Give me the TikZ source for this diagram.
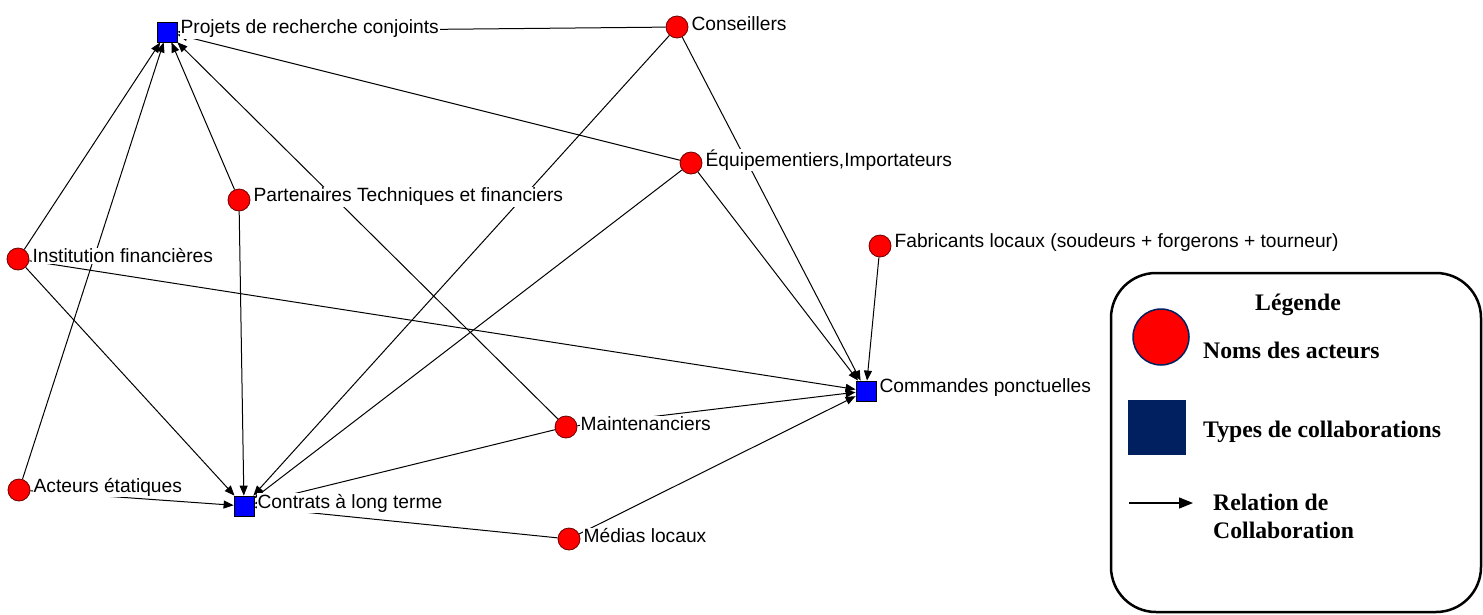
\documentclass[tikz,border=0pt]{standalone}
\usepackage{fontspec}
\setmainfont{Liberation Serif}
\setsansfont{Liberation Sans}
\usetikzlibrary{arrows.meta, positioning}
\definecolor{actorred}{HTML}{FF0000}
\definecolor{actorrim}{HTML}{6A0000}
\definecolor{typeblue}{HTML}{0000FF}
\definecolor{legnavy}{HTML}{002060}

\begin{document}
\begin{tikzpicture}[x=1pt, y=-1pt,
    actor/.style={circle, draw=actorrim, fill=actorred, line width=0.8pt, minimum size=22pt, inner sep=0pt},
    colltype/.style={rectangle, draw=black, fill=typeblue, line width=0.8pt, minimum size=20pt, inner sep=0pt},
    lbl/.style={fill=white, inner sep=1pt, font=\sffamily\fontsize{19.2}{22}\selectfont, yshift=3pt},
    link/.style={-{Triangle[length=10pt, width=8pt]}, line width=1pt},
    legtext/.style={font=\bfseries\fontsize{23.7}{28}\selectfont, align=left, inner sep=0pt}]

    \useasboundingbox (0,0) rectangle (1483,614);

    % actors and collaboration types
    \node (proj) [colltype] at (167,32) {};
    \node (contr) [colltype] at (244,506) {};
    \node (cmd) [colltype] at (866,391) {};
    \node (cons) [actor] at (677,27) {};
    \node (equip) [actor] at (691,163) {};
    \node (part) [actor] at (239,200) {};
    \node (inst) [actor] at (18,259) {};
    \node (fabr) [actor] at (880,246) {};
    \node (maint) [actor] at (566,427) {};
    \node (etat) [actor] at (19,490) {};
    \node (medias) [actor] at (569,539) {};

    % relations
    \draw [link] (cons) -- (proj);
    \draw [link] (equip) -- (proj);
    \draw [link] (part) -- (proj);
    \draw [link] (maint) -- (proj);
    \draw [link] (inst) -- (proj);
    \draw [link] (etat) -- (proj);
    \draw [link] (inst) -- (contr);
    \draw [link] (part) -- (contr);
    \draw [link] (cons) -- (contr);
    \draw [link] (equip) -- (contr);
    \draw [link] (etat) -- (contr);
    \draw [link] (maint) -- (contr);
    \draw [link] (medias) -- (contr);
    \draw [link] (inst) -- (cmd);
    \draw [link] (cons) -- (cmd);
    \draw [link] (equip) -- (cmd);
    \draw [link] (fabr) -- (cmd);
    \draw [link] (maint) -- (cmd);
    \draw [link] (medias) -- (cmd);

    % labels
    \node (projl) [lbl, right=2pt of proj] {Projets de recherche conjoints};
    \node (contrl) [lbl, right=2pt of contr] {Contrats à long terme};
    \node (cmdl) [lbl, right=2pt of cmd] {Commandes ponctuelles};
    \node (consl) [lbl, right=2pt of cons] {Conseillers};
    \node (equipl) [lbl, right=2pt of equip] {Équipementiers,Importateurs};
    \node (partl) [lbl, right=2pt of part] {Partenaires Techniques et financiers};
    \node (instl) [lbl, right=2pt of inst] {Institution financières};
    \node (fabrl) [lbl, right=2pt of fabr] {Fabricants locaux (soudeurs + forgerons + tourneur)};
    \node (maintl) [lbl, right=2pt of maint] {Maintenanciers};
    \node (etatl) [lbl, right=2pt of etat] {Acteurs étatiques};
    \node (mediasl) [lbl, right=2pt of medias] {Médias locaux};

    % legend
    \draw [line width=2.5pt, rounded corners=45pt] (1111,273) rectangle (1481,612);
    \node (legtitle) [legtext] at (1298,305) {Légende};
    \node (legact) [circle, draw=legnavy, fill=actorred, line width=1.5pt, minimum size=56pt, inner sep=0pt] at (1161,337) {};
    \node (legactl) [legtext, anchor=west] at (1203,350) {Noms des acteurs};
    \node (legtype) [rectangle, fill=legnavy, minimum width=58pt, minimum height=55pt, inner sep=0pt] at (1157,427) {};
    \node (legtypel) [legtext, anchor=west] at (1203,432) {Types de collaborations};
    \coordinate (legrela) at (1129,503);
    \coordinate (legrelb) at (1193,503);
    \draw [-{Triangle[length=14pt, width=11pt]}, line width=1.3pt] (legrela) -- (legrelb);
    \node (legrell) [legtext, anchor=north west] at (1213,494) {Relation de\\Collaboration};
\end{tikzpicture}
\end{document}
